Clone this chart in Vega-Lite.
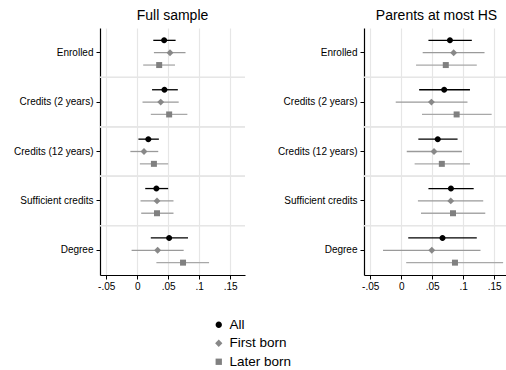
{
  "$schema": "https://vega.github.io/schema/vega-lite/v6.json",
  "padding": {"left": 13, "top": 9, "right": 0, "bottom": 0},
  "background": "white",
  "config": {
    "font": "Liberation Sans",
    "view": {"stroke": null},
    "axis": {"labelFont": "Liberation Sans", "labelColor": "black", "domainColor": "black", "tickColor": "black"},
    "axisX": {"labelOverlap": false, "labelFlush": false},
    "title": {"fontSize": 14, "font": "Liberation Sans", "fontWeight": "normal", "color": "black", "offset": 5}
  },
  "datasets": {"est": [
    {"sample": "Full sample", "outcome": "Enrolled", "group": "All", "est": 0.0435, "lo": 0.026, "hi": 0.062},
    {"sample": "Full sample", "outcome": "Enrolled", "group": "First born", "est": 0.053, "lo": 0.027, "hi": 0.078},
    {"sample": "Full sample", "outcome": "Enrolled", "group": "Later born", "est": 0.0355, "lo": 0.0097, "hi": 0.061},
    {"sample": "Full sample", "outcome": "Credits (2 years)", "group": "All", "est": 0.044, "lo": 0.024, "hi": 0.0656},
    {"sample": "Full sample", "outcome": "Credits (2 years)", "group": "First born", "est": 0.038, "lo": 0.0086, "hi": 0.067},
    {"sample": "Full sample", "outcome": "Credits (2 years)", "group": "Later born", "est": 0.0516, "lo": 0.022, "hi": 0.081},
    {"sample": "Full sample", "outcome": "Credits (12 years)", "group": "All", "est": 0.018, "lo": 0.002, "hi": 0.035},
    {"sample": "Full sample", "outcome": "Credits (12 years)", "group": "First born", "est": 0.011, "lo": -0.011, "hi": 0.034},
    {"sample": "Full sample", "outcome": "Credits (12 years)", "group": "Later born", "est": 0.027, "lo": 0.0043, "hi": 0.05},
    {"sample": "Full sample", "outcome": "Sufficient credits", "group": "All", "est": 0.031, "lo": 0.013, "hi": 0.05},
    {"sample": "Full sample", "outcome": "Sufficient credits", "group": "First born", "est": 0.032, "lo": 0.0054, "hi": 0.0586},
    {"sample": "Full sample", "outcome": "Sufficient credits", "group": "Later born", "est": 0.032, "lo": 0.0065, "hi": 0.0586},
    {"sample": "Full sample", "outcome": "Degree", "group": "All", "est": 0.0516, "lo": 0.022, "hi": 0.082},
    {"sample": "Full sample", "outcome": "Degree", "group": "First born", "est": 0.033, "lo": -0.009, "hi": 0.075},
    {"sample": "Full sample", "outcome": "Degree", "group": "Later born", "est": 0.074, "lo": 0.031, "hi": 0.116},
    {"sample": "Parents at most HS", "outcome": "Enrolled", "group": "All", "est": 0.0787, "lo": 0.044, "hi": 0.114},
    {"sample": "Parents at most HS", "outcome": "Enrolled", "group": "First born", "est": 0.0847, "lo": 0.0347, "hi": 0.1345},
    {"sample": "Parents at most HS", "outcome": "Enrolled", "group": "Later born", "est": 0.072, "lo": 0.024, "hi": 0.122},
    {"sample": "Parents at most HS", "outcome": "Credits (2 years)", "group": "All", "est": 0.0694, "lo": 0.029, "hi": 0.111},
    {"sample": "Parents at most HS", "outcome": "Credits (2 years)", "group": "First born", "est": 0.0488, "lo": -0.0088, "hi": 0.107},
    {"sample": "Parents at most HS", "outcome": "Credits (2 years)", "group": "Later born", "est": 0.0895, "lo": 0.0336, "hi": 0.146},
    {"sample": "Parents at most HS", "outcome": "Credits (12 years)", "group": "All", "est": 0.059, "lo": 0.0277, "hi": 0.091},
    {"sample": "Parents at most HS", "outcome": "Credits (12 years)", "group": "First born", "est": 0.053, "lo": 0.009, "hi": 0.098},
    {"sample": "Parents at most HS", "outcome": "Credits (12 years)", "group": "Later born", "est": 0.0656, "lo": 0.0217, "hi": 0.111},
    {"sample": "Parents at most HS", "outcome": "Sufficient credits", "group": "All", "est": 0.0803, "lo": 0.044, "hi": 0.117},
    {"sample": "Parents at most HS", "outcome": "Sufficient credits", "group": "First born", "est": 0.08, "lo": 0.027, "hi": 0.1324},
    {"sample": "Parents at most HS", "outcome": "Sufficient credits", "group": "Later born", "est": 0.0836, "lo": 0.032, "hi": 0.1357},
    {"sample": "Parents at most HS", "outcome": "Degree", "group": "All", "est": 0.0667, "lo": 0.0114, "hi": 0.122},
    {"sample": "Parents at most HS", "outcome": "Degree", "group": "First born", "est": 0.0494, "lo": -0.0293, "hi": 0.128},
    {"sample": "Parents at most HS", "outcome": "Degree", "group": "Later born", "est": 0.0868, "lo": 0.0081, "hi": 0.1645}
  ]},
  "spacing": 31,
  "resolve": {"scale": {"fill": "shared", "shape": "shared"}, "legend": {"fill": "shared", "shape": "shared"}},
  "hconcat": [
    {
      "title": "Full sample",
      "width": 145,
      "height": 247,
      "data": {"name": "est"},
      "transform": [{"filter": "datum.sample == 'Full sample'"}],
      "encoding": {
        "y": {"field": "outcome", "type": "nominal",
              "sort": ["Enrolled", "Credits (2 years)", "Credits (12 years)", "Sufficient credits", "Degree"],
              "scale": {"paddingInner": 0, "paddingOuter": 0},
              "axis": {"title": null, "grid": false, "labelFontSize": 10, "tickSize": 4, "labelPadding": 3, "labelLimit": 200, "domainWidth": 1.2}},
        "yOffset": {"field": "group", "type": "nominal", "scale": {"domain": ["All", "First born", "Later born"], "paddingInner": 0, "paddingOuter": 0.5}}
      },
      "layer": [
        {
          "transform": [{"filter": "datum.outcome != 'Enrolled'"}],
          "mark": {"type": "rule", "color": "#e6e6e6", "strokeWidth": 1.2},
          "encoding": {
            "y": {"field": "outcome", "type": "nominal", "bandPosition": 0,
                  "sort": ["Enrolled", "Credits (2 years)", "Credits (12 years)", "Sufficient credits", "Degree"]},
            "yOffset": null
          }
        },
        {
          "transform": [{"filter": "datum.group == 'All'"}],
          "mark": {"type": "rule", "strokeWidth": 1.3, "color": "#000000"},
          "encoding": {
            "x": {"field": "lo", "type": "quantitative",
                  "scale": {"domain": [-0.06, 0.174], "nice": false, "zero": false},
                  "axis": {"title": null, "values": [-0.05, 0, 0.05, 0.1, 0.15], "tickCount": 10, "grid": true, "gridColor": "#e6e6e6", "gridWidth": 1.2,
                           "labelFontSize": 10, "tickSize": 4, "labelPadding": 2, "domainWidth": 1.2, "labelOverlap": false, "labelFlush": false,
                           "labelExpr": "datum.value < 0 ? '-.05' : datum.value == 0 ? '0' : datum.value < 0.07 ? '.05' : datum.value < 0.12 ? '.1' : '.15'"}},
            "x2": {"field": "hi"}
          }
        },
        {
          "transform": [{"filter": "datum.group == 'First born'"}],
          "mark": {"type": "rule", "strokeWidth": 1.3, "color": "#9a9a9a"},
          "encoding": {"x": {"field": "lo", "type": "quantitative"}, "x2": {"field": "hi"}}
        },
        {
          "transform": [{"filter": "datum.group == 'Later born'"}],
          "mark": {"type": "rule", "strokeWidth": 1.3, "color": "#a8a8a8"},
          "encoding": {"x": {"field": "lo", "type": "quantitative"}, "x2": {"field": "hi"}}
        },
        {
          "mark": {"type": "point", "filled": true, "size": 36, "opacity": 1},
          "encoding": {
            "x": {"field": "est", "type": "quantitative"},
            "fill": {"field": "group", "type": "nominal",
                     "scale": {"domain": ["All", "First born", "Later born"], "range": ["#000000", "#888888", "#808080"]},
                     "legend": {"title": null, "orient": "none", "legendX": 112, "legendY": 290, "direction": "vertical",
                                "labelFontSize": 13.5, "labelFont": "Liberation Sans", "labelColor": "black",
                                "symbolSize": 40, "rowPadding": 3.5, "labelOffset": 4}},
            "shape": {"field": "group", "type": "nominal",
                      "scale": {"domain": ["All", "First born", "Later born"],
                                "range": ["M-1,0A1,1,0,1,1,1,0A1,1,0,1,1,-1,0Z", "M0,-1.15L1.15,0L0,1.15L-1.15,0Z", "square"]}}
          }
        }
      ]
    },
    {
      "title": "Parents at most HS",
      "width": 145,
      "height": 247,
      "data": {"name": "est"},
      "transform": [{"filter": "datum.sample == 'Parents at most HS'"}],
      "encoding": {
        "y": {"field": "outcome", "type": "nominal",
              "sort": ["Enrolled", "Credits (2 years)", "Credits (12 years)", "Sufficient credits", "Degree"],
              "scale": {"paddingInner": 0, "paddingOuter": 0},
              "axis": {"title": null, "grid": false, "labelFontSize": 10, "tickSize": 4, "labelPadding": 3, "labelLimit": 200, "domainWidth": 1.2}},
        "yOffset": {"field": "group", "type": "nominal", "scale": {"domain": ["All", "First born", "Later born"], "paddingInner": 0, "paddingOuter": 0.5}}
      },
      "layer": [
        {
          "transform": [{"filter": "datum.outcome != 'Enrolled'"}],
          "mark": {"type": "rule", "color": "#e6e6e6", "strokeWidth": 1.2},
          "encoding": {
            "y": {"field": "outcome", "type": "nominal", "bandPosition": 0,
                  "sort": ["Enrolled", "Credits (2 years)", "Credits (12 years)", "Sufficient credits", "Degree"]},
            "yOffset": null
          }
        },
        {
          "transform": [{"filter": "datum.group == 'All'"}],
          "mark": {"type": "rule", "strokeWidth": 1.3, "color": "#000000"},
          "encoding": {
            "x": {"field": "lo", "type": "quantitative",
                  "scale": {"domain": [-0.06, 0.174], "nice": false, "zero": false},
                  "axis": {"title": null, "values": [-0.05, 0, 0.05, 0.1, 0.15], "tickCount": 10, "grid": true, "gridColor": "#e6e6e6", "gridWidth": 1.2,
                           "labelFontSize": 10, "tickSize": 4, "labelPadding": 2, "domainWidth": 1.2, "labelOverlap": false, "labelFlush": false,
                           "labelExpr": "datum.value < 0 ? '-.05' : datum.value == 0 ? '0' : datum.value < 0.07 ? '.05' : datum.value < 0.12 ? '.1' : '.15'"}},
            "x2": {"field": "hi"}
          }
        },
        {
          "transform": [{"filter": "datum.group == 'First born'"}],
          "mark": {"type": "rule", "strokeWidth": 1.3, "color": "#9a9a9a"},
          "encoding": {"x": {"field": "lo", "type": "quantitative"}, "x2": {"field": "hi"}}
        },
        {
          "transform": [{"filter": "datum.group == 'Later born'"}],
          "mark": {"type": "rule", "strokeWidth": 1.3, "color": "#a8a8a8"},
          "encoding": {"x": {"field": "lo", "type": "quantitative"}, "x2": {"field": "hi"}}
        },
        {
          "mark": {"type": "point", "filled": true, "size": 36, "opacity": 1},
          "encoding": {
            "x": {"field": "est", "type": "quantitative"},
            "fill": {"field": "group", "type": "nominal",
                     "scale": {"domain": ["All", "First born", "Later born"], "range": ["#000000", "#888888", "#808080"]}},
            "shape": {"field": "group", "type": "nominal",
                      "scale": {"domain": ["All", "First born", "Later born"],
                                "range": ["M-1,0A1,1,0,1,1,1,0A1,1,0,1,1,-1,0Z", "M0,-1.15L1.15,0L0,1.15L-1.15,0Z", "square"]}}
          }
        }
      ]
    }
  ]
}
